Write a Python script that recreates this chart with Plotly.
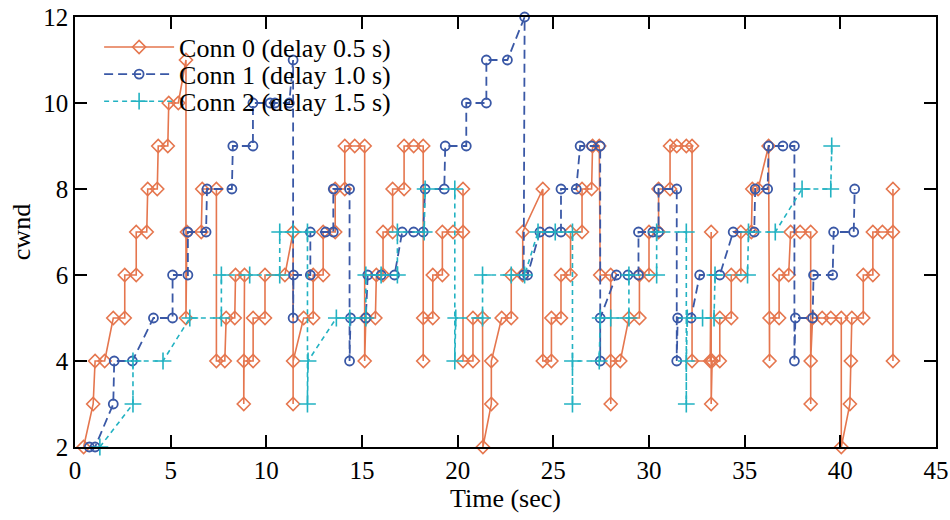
import plotly.graph_objects as go

# ---- data (time in s, cwnd in packets) ----
conn0_t = [0.45, 0.95, 1.05, 1.55, 2.0, 2.6, 2.6, 3.2, 3.2, 3.75, 3.8, 4.3, 4.35, 4.85, 4.9, 5.4, 5.8, 5.8,
           5.85, 6.6, 6.65, 7.39, 7.39, 7.83, 7.9, 8.35, 8.39, 8.86, 8.82, 8.82, 9.31, 9.31, 9.93, 9.93,
           10.97, 11.4, 11.4, 11.4, 11.95, 12.45, 12.45, 12.97, 12.97, 13.6, 13.6, 14.1, 14.1, 14.62, 15.14, 15.14,
           15.2, 15.7, 15.75, 16.1, 16.1, 16.6, 16.6, 17.2, 17.2, 17.7, 18.2, 18.2, 18.2, 18.7, 18.7, 19.2, 19.2,
           19.76, 20.28, 20.28, 20.28, 20.8, 20.8, 21.3, 21.32, 21.76, 21.76, 22.3, 22.8, 22.8, 23.4, 23.4,
           24.45, 24.45, 24.9, 24.9, 25.4, 25.4, 25.9, 25.9, 26.5, 26.5, 27.0, 27.05, 27.4, 27.45, 28.0, 28.0, 28.0,
           28.5, 28.95, 29.5, 29.5, 30.0, 30.0, 30.5, 30.5, 31.1, 31.1, 31.45, 31.95, 32.25, 32.25,
           33.2, 33.25, 33.25, 33.3, 33.7, 33.7, 34.3, 34.3, 34.8, 34.8, 35.35, 35.4, 35.7, 36.25, 36.3, 36.3,
           36.8, 36.8, 37.3, 37.4, 37.9, 38.45, 38.45, 38.45, 38.55, 39.05, 39.5, 40.05, 40.05, 40.5, 40.55, 40.6,
           41.2, 41.2, 41.7, 41.7, 42.2, 42.75, 42.75, 42.75]
conn0_cwnd = [2, 3, 4, 4, 5, 5, 6, 6, 7, 7, 8, 8, 9, 9, 10, 10, 11, 5,
              7, 7, 8, 8, 4, 4, 5, 5, 6, 6, 3, 4, 4, 5, 5, 6,
              6, 7, 3, 4, 5, 5, 6, 6, 7, 7, 8, 8, 9, 9, 9, 4,
              5, 5, 6, 6, 7, 7, 8, 8, 9, 9, 9, 4, 5, 5, 6, 6, 7,
              7, 7, 8, 4, 4, 5, 5, 2, 3, 4, 5, 5, 6, 6, 7,
              8, 4, 4, 5, 5, 6, 6, 7, 7, 8, 8, 9, 9, 6, 6, 3, 4,
              4, 5, 5, 6, 6, 7, 7, 8, 8, 9, 9, 9, 9, 4,
              4, 7, 3, 4, 4, 5, 5, 6, 6, 7, 7, 8, 8, 9, 4, 5,
              5, 6, 6, 7, 7, 7, 3, 4, 5, 5, 5, 5, 2, 3, 4, 5,
              5, 6, 6, 7, 7, 7, 8, 4]

conn1_t = [0.75, 1.05, 2.0, 2.05, 3.0, 4.1, 5.1, 5.1, 5.9, 5.9, 6.85, 6.9, 8.2, 8.25, 9.3, 9.3, 10.2, 10.45, 11.2,
           11.4, 11.4, 11.42, 12.3, 12.3, 13.1, 13.5, 13.5, 14.35, 14.35, 14.4, 15.2, 15.3, 16.0, 16.7, 17.1,
           17.7, 18.2, 18.3, 19.3, 19.35, 20.45, 20.45, 21.5, 21.5, 22.6, 23.5, 23.45, 23.65, 24.3, 24.8, 25.4,
           25.4, 26.2, 26.4, 27.0, 27.45, 27.45, 27.45, 28.3, 28.9, 29.45, 29.45, 30.2, 30.5, 30.5, 31.45, 31.45,
           31.5, 32.2, 32.65, 33.7, 34.4, 35.5, 35.55, 36.2, 36.25, 37.0, 37.6, 37.6, 37.65, 38.55, 38.6, 39.6,
           39.65, 40.7, 40.75]
conn1_cwnd = [2, 2, 3, 4, 4, 5, 5, 6, 6, 7, 7, 8, 8, 9, 9, 10, 10, 10, 10,
              11, 5, 6, 6, 7, 7, 7, 8, 8, 4, 5, 5, 6, 6, 6, 7,
              7, 7, 8, 8, 9, 9, 10, 10, 11, 11, 12, 6, 6, 7, 7, 7,
              8, 8, 9, 9, 9, 4, 5, 6, 6, 6, 7, 7, 7, 8, 8, 4,
              5, 5, 6, 6, 7, 7, 8, 8, 9, 9, 9, 4, 5, 5, 6, 6,
              7, 7, 8]

conn2_t = [1.3, 3.03, 3.03, 4.6, 6.0, 7.65, 7.65, 9.13, 10.7, 10.7, 11.4, 12.15, 12.15, 12.18, 13.66, 14.36,
           15.2, 15.2, 16.0, 16.85, 16.85, 18.25, 18.3, 19.85, 19.85, 19.9, 21.3, 21.3, 22.8, 23.5, 24.2, 25.1,
           26.0, 26.0, 26.0, 27.4, 27.45, 28.0, 28.95, 28.95, 30.4, 30.4, 31.95, 31.95, 31.95, 32.0, 32.8, 33.4,
           33.45, 35.15, 35.2, 36.6, 38.0, 39.5, 39.55]
conn2_cwnd = [2, 3, 4, 4, 5, 5, 6, 6, 6, 7, 7, 7, 3, 4, 5, 5,
              5, 6, 6, 6, 7, 7, 8, 8, 4, 5, 5, 6, 6, 6, 7, 7,
              7, 3, 4, 4, 5, 5, 5, 6, 6, 7, 7, 3, 4, 5, 5, 5,
              6, 6, 7, 7, 8, 8, 9]

series_names = ["Conn 0 (delay 0.5 s)", "Conn 1 (delay 1.0 s)", "Conn 2 (delay 1.5 s)"]
x_ticks = [0, 5, 10, 15, 20, 25, 30, 35, 40, 45]
y_ticks = [2, 4, 6, 8, 10, 12]

FONT = "Liberation Serif, Times New Roman, serif"
ORANGE = "#E5764E"
BLUE = "#3A58A6"
CYAN = "#22B2C2"

fig = go.Figure()
fig.add_trace(go.Scatter(
    x=conn0_t, y=conn0_cwnd, name=series_names[0], mode="lines+markers", legend="legend",
    line=dict(color=ORANGE, width=1.6),
    marker=dict(symbol="diamond-open", size=10, color=ORANGE, line=dict(width=1.6, color=ORANGE)),
    cliponaxis=False))
fig.add_trace(go.Scatter(
    x=conn1_t, y=conn1_cwnd, name=series_names[1], mode="lines+markers", legend="legend2",
    line=dict(color=BLUE, width=1.8, dash="9px,5px"),
    marker=dict(symbol="circle-open", size=9, color=BLUE, line=dict(width=1.8, color=BLUE)),
    cliponaxis=False))
fig.add_trace(go.Scatter(
    x=conn2_t, y=conn2_cwnd, name=series_names[2], mode="lines+markers", legend="legend3",
    line=dict(color=CYAN, width=1.6, dash="5px,4px"),
    marker=dict(symbol="cross-thin", size=12, color=CYAN, line=dict(width=1.6, color=CYAN)),
    cliponaxis=False))

leg_common = dict(x=0.028, xanchor="left", yanchor="middle", bgcolor="rgba(0,0,0,0)",
                  borderwidth=0, font=dict(family=FONT, size=26, color="black"),
                  itemwidth=70, tracegroupgap=0)
fig.update_layout(
    width=950, height=520,
    margin=dict(l=75, r=14, t=17, b=73),
    paper_bgcolor="white", plot_bgcolor="white",
    font=dict(family=FONT, size=25, color="black"),
    showlegend=True,
    legend=dict(y=0.930, **leg_common),
    legend2=dict(y=0.867, **leg_common),
    legend3=dict(y=0.804, **leg_common),
    xaxis=dict(range=[0, 45], tickvals=x_ticks, ticktext=[str(v) for v in x_ticks],
               automargin=False, ticklabeloverflow="allow",
               showgrid=False, zeroline=False, showline=True, linecolor="black", linewidth=1.5,
               mirror="ticks", ticks="inside", ticklen=12, tickwidth=1.5, tickcolor="black",
               tickfont=dict(family=FONT, size=25),
               title=dict(text="Time (sec)", font=dict(family=FONT, size=26), standoff=0)),
    yaxis=dict(range=[2, 12], tickvals=y_ticks, ticktext=[str(v) for v in y_ticks],
               automargin=False, ticklabeloverflow="allow",
               showgrid=False, zeroline=False, showline=True, linecolor="black", linewidth=1.5,
               mirror="ticks", ticks="inside", ticklen=12, tickwidth=1.5, tickcolor="black",
               tickfont=dict(family=FONT, size=25),
               title=dict(text="cwnd", font=dict(family=FONT, size=26), standoff=5)),
)

# remove the page's default body margin so the 950x520 figure fills the window
fig.write_html("out.html", config={"displayModeBar": False},
               post_script="document.body.style.margin='0px';")
